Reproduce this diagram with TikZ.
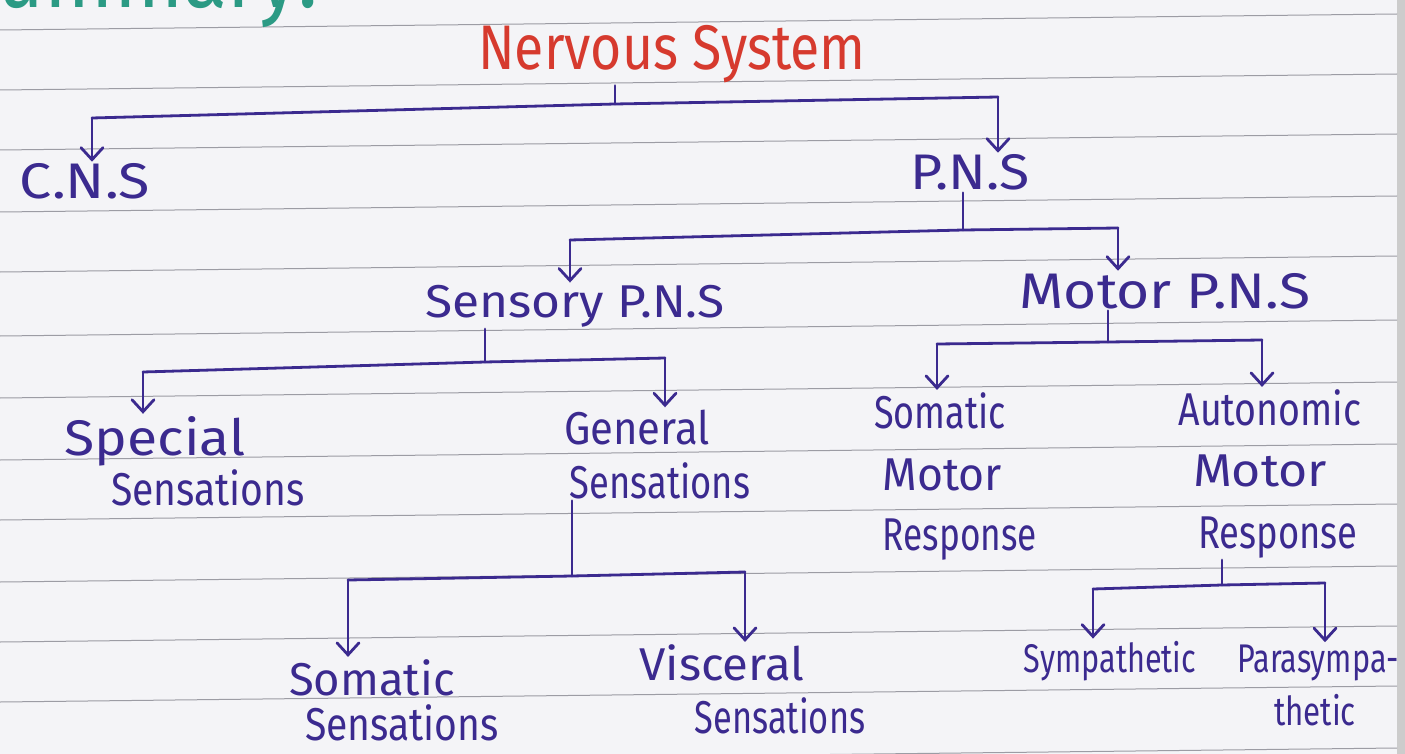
\documentclass[tikz,border=0pt]{standalone}
\usepackage{fontspec}
\setmainfont{Fira Sans}[FakeStretch=0.85]
\usetikzlibrary{arrows.meta}
\definecolor{ink}{HTML}{3B2A8F}
\definecolor{redink}{HTML}{D63A2E}
\definecolor{greenink}{HTML}{2B9A84}
\definecolor{paper}{HTML}{F4F4F7}
\definecolor{rule}{HTML}{9C9CA4}
\newcommand{\hs}[2]{\scalebox{#1}[1]{#2}}
\tikzset{
  lbl/.style={anchor=base, text=ink, inner sep=2pt, font=\fontsize{#1}{#1}\selectfont},
  lbl/.default=46,
  wire/.style={draw=ink, line width=2.8pt, line join=round, line cap=round},
  arr/.style={wire, -{Straight Barb[length=12pt,width=22pt,line cap=round]}},
}
\begin{document}
\begin{tikzpicture}[x=1pt,y=-1pt]
\useasboundingbox (0,0) rectangle (1405,754);
\fill[paper] (0,0) rectangle (1405,754);
\fill[black!20] (1397,0) rectangle (1405,754);
% ruled lines
\foreach \yy in {30,90,150,212,272,336,398,460,520,582,642,702,764}
  \draw[rule, line width=1pt] (0,\yy) -- (1397,\yy-16);

% title text
\node[anchor=base east, text=greenink, inner sep=0pt, font=\fontsize{95}{95}\selectfont] (summary) at (318,8) {Summary:};
\node[lbl=63, text=redink] (ns) at (672,70) {Nervous System};

\node[lbl=50] (cns) at (85,199) {\hs{1.35}{C.N.S}};
\node[lbl=50] (pns) at (970,190) {\hs{1.3}{P.N.S}};
\node[lbl] (sens) at (575,317) {\hs{1.27}{Sensory P.N.S}};
\node[lbl=50] (motor) at (1165,308) {\hs{1.34}{Motor P.N.S}};

\node[lbl=50] (special1) at (155,455) {\hs{1.3}{Special}};
\node[lbl] (special2) at (208,505) {Sensations};
\node[lbl] (general1) at (637,444) {\hs{1.07}{General}};
\node[lbl] (general2) at (660,498) {\hs{0.93}{Sensations}};

\node[lbl] (smr1) at (940,428) {\hs{0.92}{Somatic}};
\node[lbl] (smr2) at (942,490) {\hs{1.14}{Motor}};
\node[lbl] (smr3) at (960,550) {\hs{0.9}{Response}};
\node[lbl] (amr1) at (1270,425) {\hs{0.96}{Autonomic}};
\node[lbl] (amr2) at (1260,486) {\hs{1.28}{Motor}};
\node[lbl] (amr3) at (1278,548) {\hs{0.93}{Response}};

\node[lbl] (ss1) at (372,695) {\hs{1.16}{Somatic}};
\node[lbl] (ss2) at (402,740) {Sensations};
\node[lbl] (vs1) at (722,680) {\hs{1.21}{Visceral}};
\node[lbl] (vs2) at (780,733) {\hs{0.88}{Sensations}};

\node[lbl=40] (sym) at (1110,672) {\hs{0.9}{Sympathetic}};
\node[lbl=40] (para1) at (1318,672) {\hs{0.9}{Parasympa-}};
\node[lbl=40] (para2) at (1315,725) {\hs{0.92}{thetic}};

% Nervous System branch
\coordinate (nsJ) at (615,104);
\coordinate (nsL) at (92,118);
\coordinate (nsR) at (998,97);
\draw[wire] (ns.south -| nsJ) -- (nsJ);
\draw[wire] (nsL) -- (nsJ) -- (nsR);
\draw[arr] (nsL) -- (nsL |- cns.north);
\draw[arr] (nsR) -- (nsR |- pns.north);

% P.N.S branch
\coordinate (pJ) at (963,230);
\coordinate (pL) at (570,240);
\coordinate (pR) at (1118,228);
\draw[wire] (pns.south -| pJ) -- (pJ);
\draw[wire] (pL) -- (pJ) -- (pR);
\draw[arr] (pL) -- (pL |- sens.north);
\draw[arr] (pR) -- (pR |- motor.north);

% Sensory branch
\coordinate (sJ) at (485,362);
\coordinate (sL) at (143,372);
\coordinate (sR) at (665,358);
\draw[wire] (sens.south -| sJ) -- (sJ);
\draw[wire] (sL) -- (sJ) -- (sR);
\draw[arr] (sL) -- (sL |- special1.north);
\draw[arr] (sR) -- (sR |- general1.north);

% Motor branch
\coordinate (mJ) at (1108,342);
\coordinate (mL) at (937,344);
\coordinate (mR) at (1262,340);
\draw[wire] (motor.south -| mJ) -- (mJ);
\draw[wire] (mL) -- (mJ) -- (mR);
\draw[arr] (mL) -- (mL |- smr1.north);
\draw[arr] (mR) -- (mR |- amr1.north);

% General branch
\coordinate (gJ) at (572,576);
\coordinate (gL) at (348,580);
\coordinate (gR) at (745,572);
\draw[wire] (general2.south -| gJ) -- (gJ);
\draw[wire] (gL) -- (gJ) -- (gR);
\draw[arr] (gL) -- (gL |- ss1.north);
\draw[arr] (gR) -- (gR |- vs1.north);

% Autonomic branch
\coordinate (aJ) at (1222,585);
\coordinate (aL) at (1093,589);
\coordinate (aR) at (1325,583);
\draw[wire] (amr3.south -| aJ) -- (aJ);
\draw[wire] (aL) -- (aJ) -- (aR);
\draw[arr] (aL) -- (aL |- sym.north);
\draw[arr] (aR) -- (aR |- para1.north);
\end{tikzpicture}
\end{document}
